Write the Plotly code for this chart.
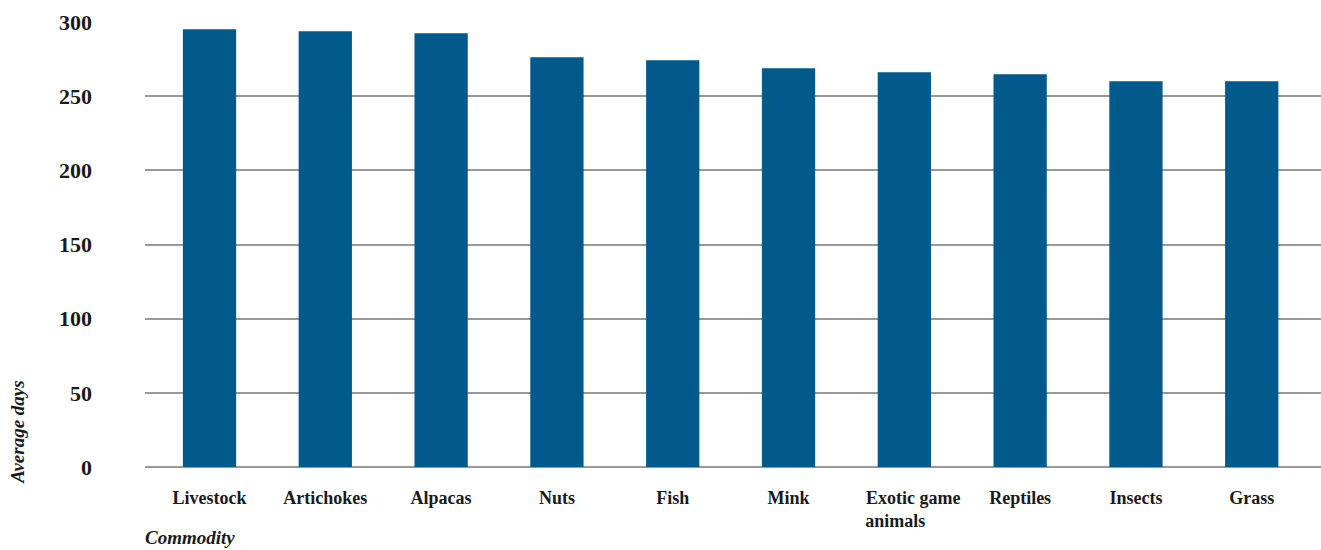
import plotly.graph_objects as go

NB = "\u00a0"
categories = ["Livestock", "Artichokes", "Alpacas", "Nuts", "Fish", "Mink",
              NB * 4 + "Exotic game<br>" + NB * 4 + "animals" + NB * 8,
              "Reptiles", "Insects", "Grass"]
average_days = [295.1, 293.7, 292.4, 276.2, 274.2, 268.8, 266.1, 264.7, 260.0, 260.0]
y_ticks = [0, 50, 100, 150, 200, 250, 300]

BAR = "#02598B"
GRID = "#999999"
TXT = "#1a1a1a"
FONT = "Liberation Serif"

fig = go.Figure(go.Bar(x=list(range(len(categories))), y=average_days,
                       marker=dict(color=BAR, line=dict(width=0)), width=0.46))

fig.update_layout(
    width=1321, height=550,
    margin=dict(l=145, r=0, t=22, b=83),
    plot_bgcolor="white", paper_bgcolor="white",
    showlegend=False,
    xaxis=dict(
        tickmode="array", tickvals=list(range(len(categories))), ticktext=categories,
        range=[-0.557, 9.598], showgrid=False, zeroline=False, showline=False,
        ticks="", ticklabelstandoff=18,
        tickfont=dict(family=FONT, size=18, weight="bold", color=TXT),
    ),
    yaxis=dict(
        range=[0, 300], tickvals=y_ticks, showgrid=True, gridcolor=GRID, gridwidth=2,
        zeroline=True, zerolinecolor=GRID, zerolinewidth=2, showline=False,
        ticks="", ticklabelstandoff=52,
        tickfont=dict(family=FONT, size=22, weight="bold", color=TXT),
    ),
    annotations=[
        dict(text="<i>Commodity</i>", xref="paper", yref="paper", x=-0.002, y=-0.130,
             xanchor="left", yanchor="top", showarrow=False,
             font=dict(family=FONT, size=19, weight="bold", color=TXT)),
        dict(text="<i>Average days</i>", xref="paper", yref="paper", x=-0.108, y=0.079,
             xanchor="center", yanchor="middle", textangle=-90, showarrow=False,
             font=dict(family=FONT, size=19, weight="bold", color=TXT)),
    ],
)

fig.write_html(
    "out.html",
    config={"displayModeBar": False},
    post_script="document.body.style.margin='0';document.body.style.overflow='hidden';",
)
